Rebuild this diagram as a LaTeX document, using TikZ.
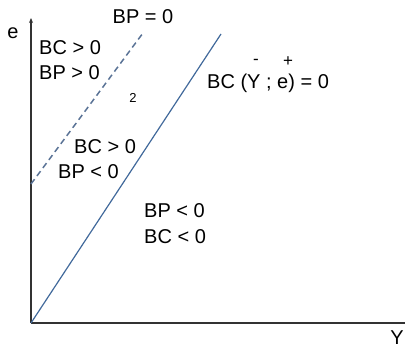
\documentclass[tikz,border=0pt]{standalone}
\usepackage{fontspec}
\setmainfont{Liberation Sans}
\usetikzlibrary{arrows.meta}
\definecolor{axisc}{RGB}{50,50,50}
\definecolor{linec}{RGB}{65,105,155}
\definecolor{dashc}{RGB}{90,115,150}
\begin{document}
\begin{tikzpicture}[x=1pt,y=-1pt,
  lbl/.style={font=\fontsize{20}{24}\selectfont, inner sep=0pt, text=black},
  axis/.style={axisc, line width=1.4pt},
  sml/.style={font=\fontsize{13}{15}\selectfont, inner sep=0pt},
  sgn/.style={font=\fontsize{17}{20}\selectfont, inner sep=0pt}]
\useasboundingbox (0,0) rectangle (406,348);
\coordinate (O) at (31,323);
\coordinate (ytop) at (31,18);
\coordinate (xend) at (405,323);
\draw[axis, -{Stealth[length=5pt,width=4pt]}] (O) -- (ytop);
\draw[axis] (O) -- (xend);
\node[lbl] (e) at (13,33) {e};
\node[lbl] (Y) at (397,338) {Y};
\coordinate (s1) at (31,323);
\coordinate (s2) at (221,34);
\draw[linec, line width=1.2pt] (s1) -- (s2);
\coordinate (d1) at (31,184);
\coordinate (d2) at (143,33);
\draw[dashc, line width=1.5pt, dash pattern=on 6pt off 4pt] (d1) -- (d2);
\node[lbl] (bp0) at (143,17) {BP = 0};
\node[lbl, anchor=west] (bc1) at (39,48) {BC > 0};
\node[lbl, anchor=west] (bp1) at (39,73) {BP > 0};
\node[sml] (two) at (133,98) {2};
\node[lbl, anchor=west] (bc2) at (74,147) {BC > 0};
\node[lbl, anchor=west] (bp2) at (58,172) {BP < 0};
\node[lbl, anchor=west] (bp3) at (144,211) {BP < 0};
\node[lbl, anchor=west] (bc3) at (144,237) {BC < 0};
\node[lbl, anchor=west] (bce) at (207,83) {BC (Y ; e) = 0};
\node[sgn] (minus) at (256,62) {-};
\node[sgn] (plus) at (288,62) {+};
\end{tikzpicture}
\end{document}
